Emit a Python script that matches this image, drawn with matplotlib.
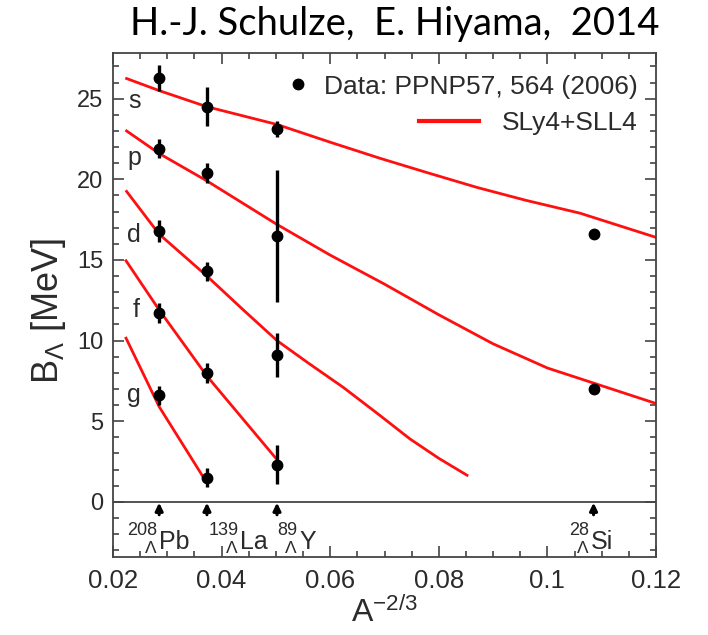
import matplotlib
matplotlib.use("Agg")
import matplotlib.pyplot as plt
from matplotlib.lines import Line2D
from matplotlib.ticker import MultipleLocator

plt.rcParams['font.family'] = ['Liberation Sans', 'DejaVu Sans']
plt.rcParams['mathtext.fontset'] = 'custom'
plt.rcParams['mathtext.rm'] = 'Liberation Sans'
plt.rcParams['mathtext.it'] = 'Liberation Sans:italic'
plt.rcParams['mathtext.sf'] = 'Liberation Sans'

# A^(-2/3) of the hypernuclei: 208Pb, 139La, 89Y, 28Si
nuc_x = [0.0285, 0.0373, 0.0502, 0.1085]
nuc_mass = ['208', '139', '89', '28']
nuc_name = ['Pb', 'La', 'Y', 'Si']
nuc_label_x = [0.0285, 0.0434, 0.0543, 0.1080]

# measured B_Lambda per shell (MeV)
s_y = [26.3, 24.5, 23.1, 16.6]
s_err = [0.8, 1.2, 0.5, 0.0]
p_y = [21.9, 20.4, 16.5, 7.0]
p_err = [0.6, 0.6, 4.1, 0.0]
d_y = [16.8, 14.3, 9.1]
d_err = [0.7, 0.6, 1.35]
f_y = [11.7, 8.0, 2.3]
f_err = [0.6, 0.6, 1.2]
g_y = [6.6, 1.5]
g_err = [0.6, 0.6]

# SLy4+SLL4 curves
s_cx = [0.0225, 0.0285, 0.0373, 0.0502, 0.0600, 0.0692, 0.0780, 0.0870, 0.0960, 0.1060, 0.1200]
s_cy = [26.25, 25.5, 24.5, 23.4, 22.3, 21.3, 20.4, 19.5, 18.7, 17.9, 16.4]
p_cx = [0.0225, 0.0285, 0.0373, 0.0502, 0.0600, 0.0700, 0.0800, 0.0900, 0.1000, 0.1100, 0.1200]
p_cy = [23.0, 21.6, 19.9, 17.2, 15.3, 13.5, 11.6, 9.8, 8.3, 7.2, 6.1]
d_cx = [0.0225, 0.0285, 0.0373, 0.0440, 0.0502, 0.0560, 0.0624, 0.0690, 0.0747, 0.0800, 0.0852]
d_cy = [19.25, 16.6, 14.0, 11.9, 10.0, 8.6, 7.1, 5.4, 3.9, 2.7, 1.65]
f_cx = [0.0224, 0.0285, 0.0373, 0.0500]
f_cy = [14.95, 11.9, 7.8, 2.7]
g_cx = [0.0224, 0.0285, 0.0365]
g_cy = [10.15, 5.9, 1.6]

shell_names = ['s', 'p', 'd', 'f', 'g']
shell_lab_x = [0.0228, 0.0226, 0.0226, 0.0236, 0.0225]
shell_lab_y = [24.45, 20.87, 16.12, 11.47, 6.17]

fig = plt.figure(figsize=(7.08, 6.35), dpi=100)
ax = fig.add_axes([113 / 708, 1 - 556.7 / 635, 543 / 708, 504 / 635])

red = '#ff1010'
txt = '#2b2b2b'
for cx, cy in [(s_cx, s_cy), (p_cx, p_cy), (d_cx, d_cy), (f_cx, f_cy), (g_cx, g_cy)]:
    ax.plot(cx, cy, color=red, lw=2.0, zorder=2)

ax.errorbar(nuc_x, s_y, yerr=s_err, fmt='o', color='black', ms=7.5, elinewidth=2.4, capsize=0, zorder=3)
ax.errorbar(nuc_x, p_y, yerr=p_err, fmt='o', color='black', ms=7.5, elinewidth=2.4, capsize=0, zorder=3)
ax.errorbar(nuc_x[:3], d_y, yerr=d_err, fmt='o', color='black', ms=7.5, elinewidth=2.4, capsize=0, zorder=3)
ax.errorbar(nuc_x[:3], f_y, yerr=f_err, fmt='o', color='black', ms=7.5, elinewidth=2.4, capsize=0, zorder=3)
ax.errorbar(nuc_x[:2], g_y, yerr=g_err, fmt='o', color='black', ms=7.5, elinewidth=2.4, capsize=0, zorder=3)

for name, lx, ly in zip(shell_names, shell_lab_x, shell_lab_y):
    ax.text(lx, ly, name, fontsize=18, color=txt, ha='left', va='baseline')

ax.axhline(0, color='#444444', lw=1.3, zorder=1)

# nucleus markers below the zero line
for x, m, n, lx in zip(nuc_x, nuc_mass, nuc_name, nuc_label_x):
    ax.annotate('', xy=(x, -0.05), xytext=(x, -0.8),
                arrowprops=dict(arrowstyle='-|>,head_length=0.45,head_width=0.22',
                                color='black', lw=2.2, shrinkA=0, shrinkB=0))
    ax.text(lx, -2.9, n, fontsize=18, color=txt, ha='left', va='baseline')
    ax.annotate(m, xy=(lx, -2.9), xytext=(-1.2, 9.6), textcoords='offset points',
                fontsize=13, color=txt, ha='right', va='baseline')
    ax.annotate(r'$\Lambda$', xy=(lx, -2.9), xytext=(-1.2, -3.3), textcoords='offset points',
                fontsize=12.5, color=txt, ha='right', va='baseline')

ax.set_xlim(0.02, 0.12)
ax.set_ylim(-3.4, 27.85)
ax.xaxis.set_major_locator(MultipleLocator(0.02))
ax.xaxis.set_minor_locator(MultipleLocator(0.005))
ax.yaxis.set_major_locator(MultipleLocator(5))
ax.yaxis.set_minor_locator(MultipleLocator(1))
ax.set_xticks([0.02, 0.04, 0.06, 0.08, 0.1, 0.12])
ax.set_xticklabels(['0.02', '0.04', '0.06', '0.08', '0.1', '0.12'])
ax.set_yticks([0, 5, 10, 15, 20, 25])
ax.tick_params(which='both', direction='in', top=True, right=True, color='#444444', width=1.2)
ax.tick_params(which='major', length=8)
ax.tick_params(which='minor', length=4.5)
ax.tick_params(axis='x', labelsize=18.5, pad=9, labelcolor=txt)
ax.tick_params(axis='y', labelsize=17, pad=7, labelcolor=txt)
for sp in ax.spines.values():
    sp.set_color('#444444')
    sp.set_linewidth(1.3)

ax.set_xlabel(r'A$^{-2/3}$', fontsize=23, color=txt)
ax.xaxis.set_label_coords(0.5, -0.08)
fig.text(48 / 708, 1 - 238 / 635, r'B$_{\Lambda}$ [MeV]', fontsize=26, color=txt,
         rotation=90, ha='center', va='top')

# legend, text right-aligned as in the original
h_data = Line2D([], [], marker='o', ls='none', color='black', ms=7.5)
h_model = Line2D([], [], color=red, lw=3)
leg1 = ax.legend([h_data], ['Data: PPNP57, 564 (2006)'], loc='center right',
                 bbox_to_anchor=(0.967, 0.9325), frameon=False, fontsize=19,
                 borderpad=0, borderaxespad=0, handlelength=0.8, handletextpad=0.6,
                 labelcolor=txt)
ax.add_artist(leg1)
ax.legend([h_model], ['SLy4+SLL4'], loc='center right',
          bbox_to_anchor=(0.967, 0.8605), frameon=False, fontsize=19,
          borderpad=0, borderaxespad=0, handlelength=2.27, handletextpad=0.88,
          labelcolor=txt)

fig.text(660 / 708, 1 - 35 / 635, 'H.-J. Schulze,  E. Hiyama,  2014', fontsize=27.5,
         family=['Lato', 'DejaVu Sans'], color='black', ha='right', va='baseline')

fig.savefig('out.png', dpi=100)
